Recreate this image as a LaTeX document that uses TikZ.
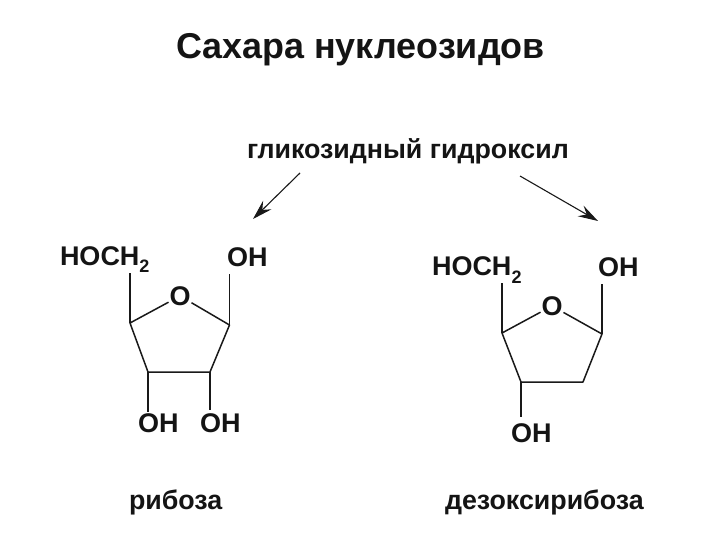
\documentclass[tikz,border=0pt]{standalone}
\usepackage{fontspec}
\setmainfont{Liberation Sans}
\usetikzlibrary{arrows.meta}
\tikzset{
  x=1pt,y=-1pt,
  lbl/.style={inner sep=0pt,outer sep=0pt,font=\bfseries\fontsize{26.8}{27}\selectfont,text=black!92,anchor=base west},
  chem/.style={inner sep=0pt,outer sep=0pt,font=\bfseries\fontsize{27}{27}\selectfont,text=black!92,anchor=base west},
  atom/.style={inner sep=1pt,outer sep=0pt,font=\bfseries\fontsize{27}{27}\selectfont,text=black!92},
  bond/.style={line width=1.5pt,black!90},
  arr/.style={line width=1.1pt,black!90,-{Stealth[length=20pt,width=12pt,inset=7pt]}},
}
\newcommand{\subtwo}{\raisebox{-8pt}{\fontsize{18}{18}\selectfont 2}}
\begin{document}
\begin{tikzpicture}
\useasboundingbox (0,0) rectangle (720,540);
\node[inner sep=0pt,anchor=base west,font=\bfseries\fontsize{35.9}{36}\selectfont,text=black!92] (title) at (176,58.5) {Сахара нуклеозидов};
\node[lbl] (gl) at (247,159) {гликозидный гидроксил};
\coordinate (a1s) at (300,173); \coordinate (a1e) at (253,219);
\coordinate (a2s) at (520,176); \coordinate (a2e) at (598,221);
\draw[arr] (a1s) -- (a1e);
\draw[arr] (a2s) -- (a2e);

% ribose
\node[chem] (r1) at (60,265) {HOCH\subtwo};
\node[chem] (r2) at (227,266) {OH};
\node[atom] (rO) at (180,296) {O};
\node[chem] (r3) at (138,432) {OH};
\node[chem] (r4) at (200,432) {OH};
\coordinate (ra) at (130,323); \coordinate (rb) at (229.5,325);
\coordinate (rc) at (210,372); \coordinate (rd) at (148,372);
\coordinate (rat) at (130,273); \coordinate (rbt) at (229.5,274);
\coordinate (rcb) at (210,410); \coordinate (rdb) at (148,412);
\draw[bond,line join=round] (rO) -- (rb) -- (rc) -- (rd) -- (ra) -- (rO);
\draw[bond] (ra) -- (rat);
\draw[bond] (rb) -- (rbt);
\draw[bond] (rc) -- (rcb);
\draw[bond] (rd) -- (rdb);

% deoxyribose
\node[chem] (d1) at (432,275) {HOCH\subtwo};
\node[chem] (d2) at (598,276) {OH};
\node[atom] (dO) at (552,306) {O};
\node[chem] (d3) at (511,442) {OH};
\coordinate (da) at (502,333); \coordinate (db) at (602,334);
\coordinate (dc) at (583,382); \coordinate (dd) at (521,382);
\coordinate (dat) at (502,283); \coordinate (dbt) at (602,284);
\coordinate (ddb) at (521,417);
\draw[bond,line join=round] (dO) -- (db) -- (dc) -- (dd) -- (da) -- (dO);
\draw[bond] (da) -- (dat);
\draw[bond] (db) -- (dbt);
\draw[bond] (dd) -- (ddb);

\node[lbl] (rib) at (129,509) {рибоза};
\node[lbl] (dez) at (445,509) {дезоксирибоза};
\end{tikzpicture}
\end{document}
